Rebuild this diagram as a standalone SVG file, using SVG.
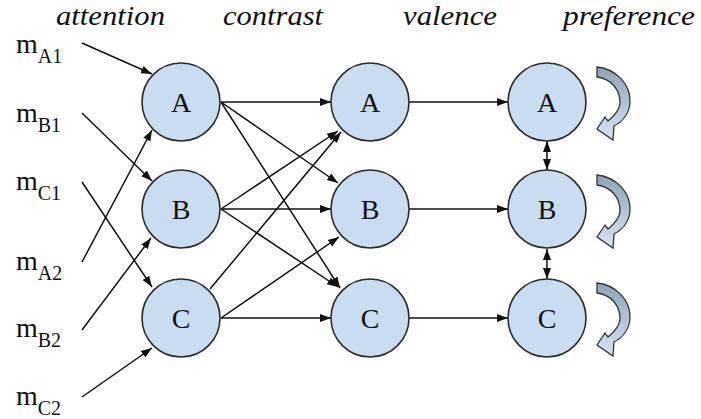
<svg xmlns="http://www.w3.org/2000/svg" width="701" height="419" viewBox="0 0 701 419">
<style>
.node circle{fill:#c9dcf0;stroke:#2b2b2b;stroke-width:1.6}
.node text{font-size:28px;fill:#111;text-anchor:middle}
.hdr{font-style:italic;font-size:27px;fill:#111}
.lbl{font-size:28px;fill:#111}
.sub{font-size:20px}
#connectors line{stroke:#111;stroke-width:1.5;fill:none;marker-end:url(#ah)}
#connectors line.dbl{marker-start:url(#ah)}
.loop{stroke:#333;stroke-width:1.3;fill:url(#lg)}
</style>
<defs>
<marker id="ah" markerUnits="userSpaceOnUse" markerWidth="12" markerHeight="10" refX="11" refY="4" orient="auto-start-reverse" viewBox="0 0 12 8">
<path d="M0,0 L11,4 L0,8 z" fill="#111"/>
</marker>
<linearGradient id="lg" x1="0" y1="0" x2="0" y2="1">
<stop offset="0" stop-color="#8fa2b7"/>
<stop offset="1" stop-color="#d6e5f5"/>
</linearGradient>
<path id="loopshape" d="M597,67 C616,69 631,84 630,103 C629,114 622,122 614,126 L613,140 L597,129 L605,117 L608,121 C614,116 620,110 620,103 C620,89 611,79 597,77 Z"/>
</defs>
<rect width="701" height="419" fill="#fff"/>
<g id="headers" font-family="Liberation Serif, serif">
<text class="hdr" x="56" y="25" textLength="109" lengthAdjust="spacingAndGlyphs">attention</text>
<text class="hdr" x="223" y="25" textLength="100" lengthAdjust="spacingAndGlyphs">contrast</text>
<text class="hdr" x="403" y="25" textLength="94" lengthAdjust="spacingAndGlyphs">valence</text>
<text class="hdr" x="563" y="25" textLength="132" lengthAdjust="spacingAndGlyphs">preference</text>
</g>
<g id="inputs" font-family="Liberation Serif, serif">
<text class="lbl" x="16" y="53">m<tspan class="sub" dy="10">A1</tspan></text>
<text class="lbl" x="16" y="122">m<tspan class="sub" dy="10">B1</tspan></text>
<text class="lbl" x="16" y="190">m<tspan class="sub" dy="10">C1</tspan></text>
<text class="lbl" x="16" y="270">m<tspan class="sub" dy="10">A2</tspan></text>
<text class="lbl" x="16" y="337">m<tspan class="sub" dy="10">B2</tspan></text>
<text class="lbl" x="16" y="405">m<tspan class="sub" dy="10">C2</tspan></text>
</g>
<g id="connectors">
<line x1="221" y1="102" x2="331" y2="102"/>
<line x1="221" y1="102" x2="338" y2="183"/>
<line x1="221" y1="102" x2="340" y2="288"/>
<line x1="221" y1="209" x2="338" y2="131"/>
<line x1="221" y1="209" x2="331" y2="209"/>
<line x1="221" y1="209" x2="338" y2="287"/>
<line x1="210" y1="289" x2="341" y2="132"/>
<line x1="221" y1="318" x2="339" y2="237"/>
<line x1="221" y1="318" x2="331" y2="318"/>
<line x1="409" y1="102" x2="508" y2="102"/>
<line x1="409" y1="209" x2="508" y2="209"/>
<line x1="409" y1="318" x2="508" y2="318"/>
<line x1="82" y1="43" x2="152" y2="74"/>
<line x1="82" y1="113" x2="152" y2="181"/>
<line x1="82" y1="182" x2="152" y2="287"/>
<line x1="82" y1="262" x2="152" y2="130"/>
<line x1="82" y1="330" x2="151" y2="238"/>
<line x1="82" y1="397" x2="152" y2="348"/>
<line class="dbl" x1="547" y1="141" x2="547" y2="170"/>
<line class="dbl" x1="547" y1="249" x2="547" y2="279"/>
</g>
<g font-family="Liberation Serif, serif">
<g id="node-att-A" class="node"><circle cx="181" cy="102" r="39"/><text x="181" y="112">A</text></g>
<g id="node-att-B" class="node"><circle cx="181" cy="209" r="39"/><text x="181" y="219">B</text></g>
<g id="node-att-C" class="node"><circle cx="181" cy="318" r="39"/><text x="181" y="328">C</text></g>
<g id="node-con-A" class="node"><circle cx="370" cy="102" r="39"/><text x="370" y="112">A</text></g>
<g id="node-con-B" class="node"><circle cx="370" cy="209" r="39"/><text x="370" y="219">B</text></g>
<g id="node-con-C" class="node"><circle cx="370" cy="318" r="39"/><text x="370" y="328">C</text></g>
<g id="node-val-A" class="node"><circle cx="547" cy="102" r="39"/><text x="547" y="112">A</text></g>
<g id="node-val-B" class="node"><circle cx="547" cy="209" r="39"/><text x="547" y="219">B</text></g>
<g id="node-val-C" class="node"><circle cx="547" cy="318" r="39"/><text x="547" y="328">C</text></g>
</g>
<g id="loops">
<use href="#loopshape" class="loop"/>
<use href="#loopshape" class="loop" y="108"/>
<use href="#loopshape" class="loop" y="216"/>
</g>
</svg>
